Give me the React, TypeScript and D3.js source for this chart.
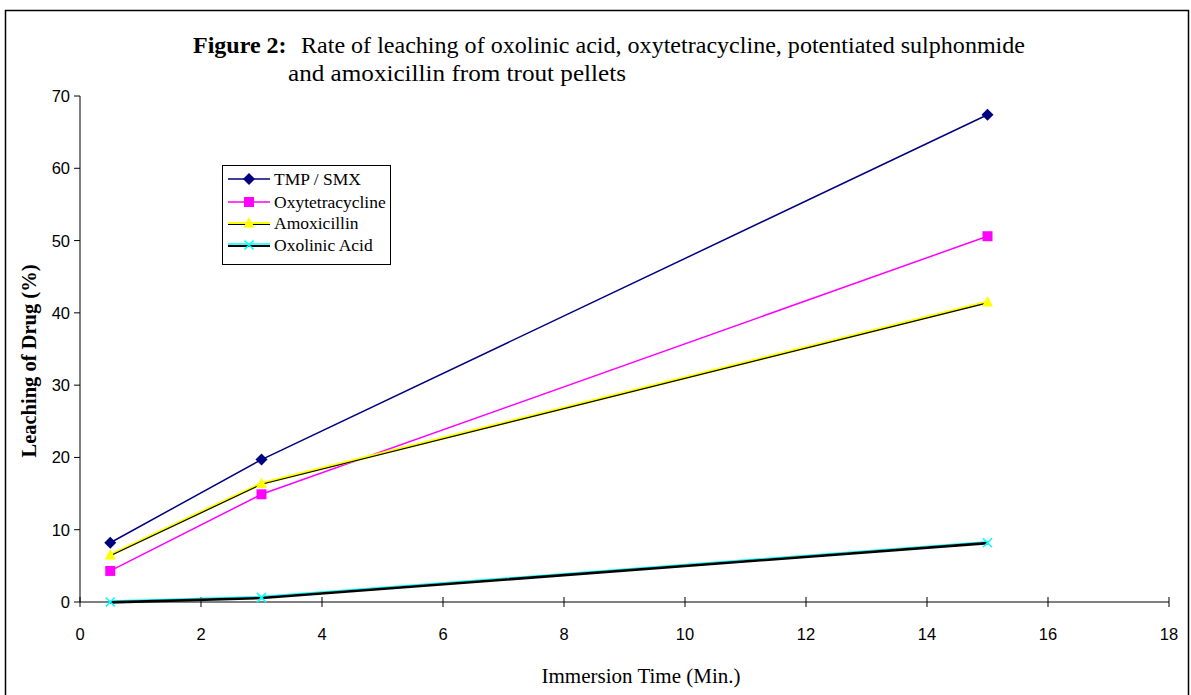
import React from "react";
import * as d3 from "d3";

const times = [0.5, 3, 15];
const tmpSmx = [8.2, 19.7, 67.4];
const oxytetracycline = [4.3, 14.9, 50.6];
const amoxicillin = [6.5, 16.4, 41.5];
const oxolinicAcid = [0, 0.6, 8.2];
const xTicks = [0, 2, 4, 6, 8, 10, 12, 14, 16, 18];
const yTicks = [0, 10, 20, 30, 40, 50, 60, 70];
const seriesNames = ["TMP / SMX", "Oxytetracycline", "Amoxicillin", "Oxolinic Acid"];

const serif = "'Liberation Serif', 'Times New Roman', serif";
const sans = "'Liberation Sans', Arial, sans-serif";

function marker(kind: string, cx: number, cy: number, key?: string) {
  if (kind === "diamond") {
    const s = 6;
    return <path key={key} d={`M${cx},${cy - s}L${cx + s},${cy}L${cx},${cy + s}L${cx - s},${cy}Z`} fill="#000080" />;
  }
  if (kind === "square") {
    return <rect key={key} x={cx - 5} y={cy - 5} width={10} height={10} fill="#FF00FF" />;
  }
  if (kind === "triangle") {
    return <path key={key} d={`M${cx},${cy - 6}L${cx + 5.5},${cy + 4.5}L${cx - 5.5},${cy + 4.5}Z`} fill="#FFFF00" />;
  }
  const s = 4.5;
  return (
    <path key={key} d={`M${cx - s},${cy - s}L${cx + s},${cy + s}M${cx - s},${cy + s}L${cx + s},${cy - s}`} stroke="#00FFFF" strokeWidth={1.6} fill="none" />
  );
}

export default function App() {
  const x = d3.scaleLinear().domain([0, 18]).range([80, 1169]);
  const y = d3.scaleLinear().domain([0, 70]).range([602, 96]);
  const line = d3.line<[number, number]>().x((d) => x(d[0])).y((d) => y(d[1]));
  const pts = (vals: number[]) => times.map((t, i) => [t, vals[i]] as [number, number]);

  const legendY = [179, 202, 223, 245];
  const kinds = ["diamond", "square", "triangle", "x"];

  return (
    <svg width={1191} height={695} style={{ position: "absolute", left: 0, top: 0, background: "#fff" }}>
      <rect x={0} y={0} width={1191} height={695} fill="#fff" />
      <rect x={5.5} y={10.5} width={1183} height={700} fill="none" stroke="#000" strokeWidth={1.5} />

      {/* title */}
      <text x={193} y={53} fontFamily={serif} fontSize={24} fontWeight="bold" fill="#000">
        Figure 2:
      </text>
      <text x={301} y={53} fontFamily={serif} fontSize={24} fill="#000" textLength={724} lengthAdjust="spacingAndGlyphs">
        Rate of leaching of oxolinic acid, oxytetracycline, potentiated sulphonmide
      </text>
      <text x={288} y={81} fontFamily={serif} fontSize={24} fill="#000" textLength={338} lengthAdjust="spacingAndGlyphs">
        and amoxicillin from trout pellets
      </text>

      {/* axes */}
      <line x1={x(0)} x2={x(18)} y1={y(0)} y2={y(0)} stroke="#000" strokeWidth={1} />
      <line x1={x(0)} x2={x(0)} y1={y(0)} y2={y(70)} stroke="#000" strokeWidth={1} />
      {xTicks.map((t) => (
        <g key={"xt" + t}>
          <line x1={x(t)} x2={x(t)} y1={y(0) - 5} y2={y(0) + 5} stroke="#000" />
          <text x={x(t)} y={640} textAnchor="middle" fontFamily={sans} fontSize={16.5} fill="#000">
            {t}
          </text>
        </g>
      ))}
      {yTicks.map((t) => (
        <g key={"yt" + t}>
          <line x1={x(0) - 6} x2={x(0)} y1={y(t)} y2={y(t)} stroke="#000" />
          <text x={70} y={y(t) + 6} textAnchor="end" fontFamily={sans} fontSize={16.5} fill="#000">
            {t}
          </text>
        </g>
      ))}

      <text x={641} y={683} textAnchor="middle" fontFamily={serif} fontSize={21} fill="#000">
        Immersion Time (Min.)
      </text>
      <text
        transform={`translate(36,361) rotate(-90)`}
        textAnchor="middle"
        fontFamily={serif}
        fontSize={20.5}
        fontWeight="bold"
        fill="#000"
      >
        Leaching of  Drug (%)
      </text>

      {/* series lines */}
      <path d={line(pts(tmpSmx)) || ""} fill="none" stroke="#000080" strokeWidth={1.5} />
      <path d={line(pts(oxytetracycline)) || ""} fill="none" stroke="#FF00FF" strokeWidth={1.5} />
      <path d={line(pts(amoxicillin)) || ""} fill="none" stroke="#FFFF00" strokeWidth={3} />
      <path d={line(pts(amoxicillin)) || ""} fill="none" stroke="#000" strokeWidth={1.2} transform="translate(0,0.8)" />
      <path d={line(pts(oxolinicAcid)) || ""} fill="none" stroke="#00FFFF" strokeWidth={1.2} transform="translate(0,-1.2)" />
      <path d={line(pts(oxolinicAcid)) || ""} fill="none" stroke="#000" strokeWidth={2.6} transform="translate(0,0.4)" />

      {/* markers */}
      {times.map((t, i) => marker("diamond", x(t), y(tmpSmx[i]), "d" + i))}
      {times.map((t, i) => marker("square", x(t), y(oxytetracycline[i]), "s" + i))}
      {times.map((t, i) => marker("triangle", x(t), y(amoxicillin[i]), "t" + i))}
      {times.map((t, i) => marker("x", x(t), y(oxolinicAcid[i]), "x" + i))}

      {/* legend */}
      <rect x={222.5} y={165.5} width={168} height={99} fill="#fff" stroke="#000" strokeWidth={1} />
      {seriesNames.map((name, i) => {
        const ly = legendY[i];
        const k = kinds[i];
        let lines: React.ReactNode;
        if (k === "diamond") lines = <line x1={228} x2={270} y1={ly} y2={ly} stroke="#000080" strokeWidth={1.5} />;
        else if (k === "square") lines = <line x1={228} x2={270} y1={ly} y2={ly} stroke="#FF00FF" strokeWidth={1.5} />;
        else if (k === "triangle")
          lines = (
            <g>
              <line x1={228} x2={270} y1={ly} y2={ly} stroke="#FFFF00" strokeWidth={2} />
              <line x1={228} x2={270} y1={ly + 1.5} y2={ly + 1.5} stroke="#000" strokeWidth={1} />
            </g>
          );
        else
          lines = (
            <g>
              <line x1={228} x2={270} y1={ly - 1} y2={ly - 1} stroke="#00FFFF" strokeWidth={1.5} />
              <line x1={228} x2={270} y1={ly + 1} y2={ly + 1} stroke="#000" strokeWidth={2} />
            </g>
          );
        return (
          <g key={"lg" + i}>
            {lines}
            {marker(k, 249, ly)}
            <text x={274} y={ly + 6} fontFamily={serif} fontSize={17.5} fill="#000">
              {name}
            </text>
          </g>
        );
      })}
    </svg>
  );
}
